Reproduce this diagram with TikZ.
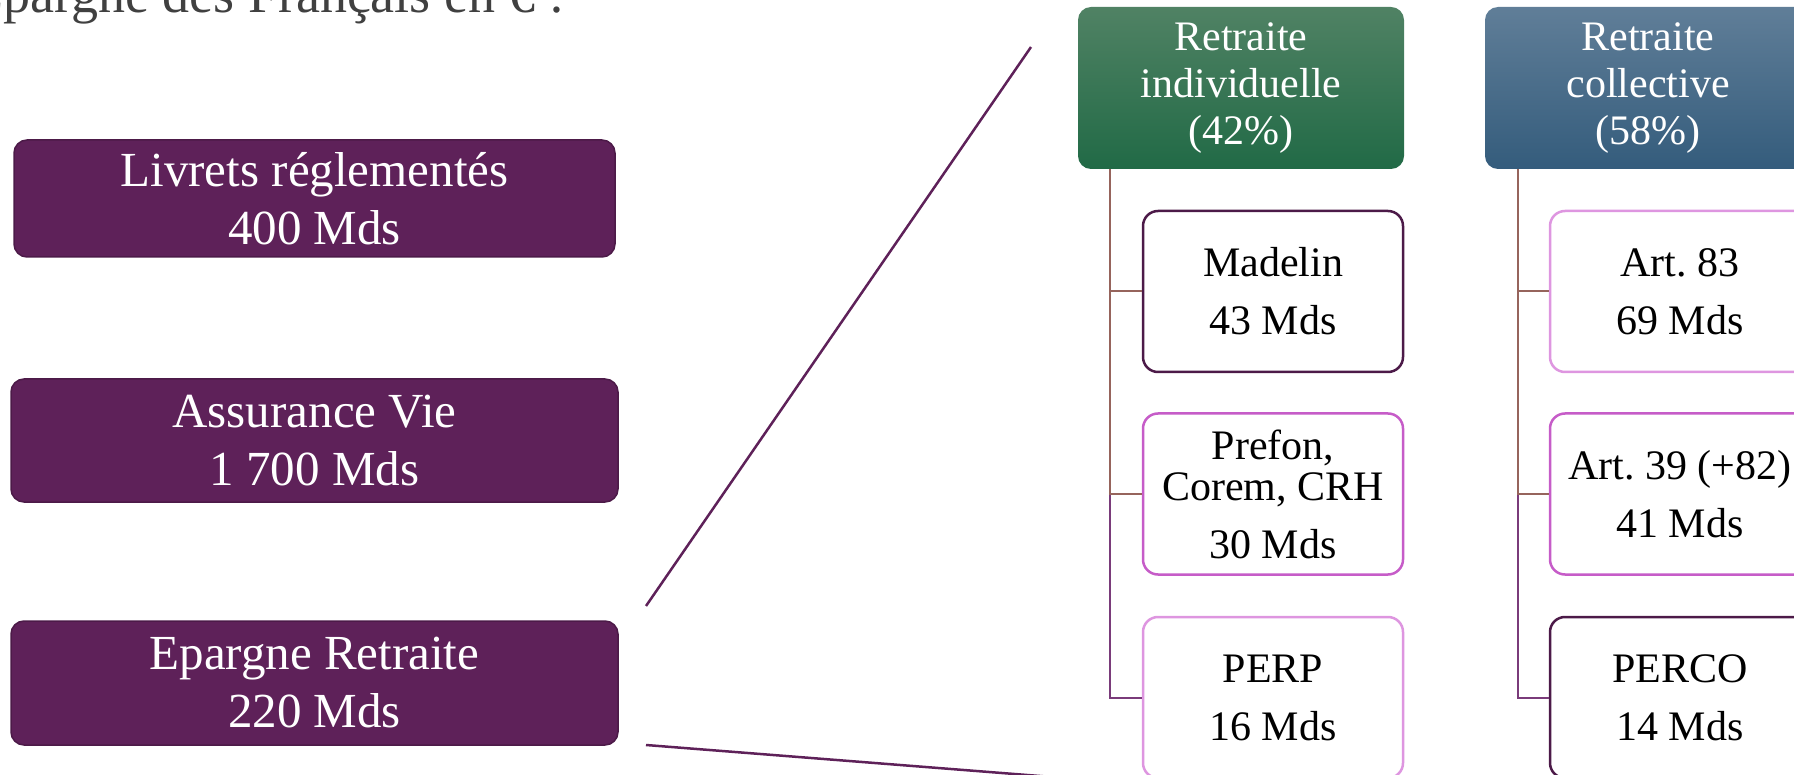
\documentclass[tikz,border=0pt]{standalone}
\usepackage{fontspec}
\setmainfont{Liberation Serif}
\frenchspacing
\definecolor{plum}{RGB}{94,33,89}
\definecolor{plumdark}{RGB}{76,26,72}
\definecolor{orchid}{RGB}{198,92,200}
\definecolor{lilac}{RGB}{222,150,224}
\definecolor{greentop}{RGB}{80,130,100}
\definecolor{greenbot}{RGB}{33,106,70}
\definecolor{bluetop}{RGB}{96,126,152}
\definecolor{bluebot}{RGB}{52,92,124}
\definecolor{linkbrown}{RGB}{150,100,92}
\definecolor{linkplum}{RGB}{122,59,122}
\definecolor{titlegrey}{RGB}{64,64,64}
\tikzset{
  savings/.style={draw=plumdark, line width=1.5pt, fill=plum, text=white,
    rounded corners=13pt, align=center, inner sep=0pt,
    font=\fontsize{49}{58}\selectfont},
  header/.style={rounded corners=13pt, text=white, align=center, inner sep=0pt,
    minimum width=326pt, minimum height=162pt, font=\fontsize{42}{47}\selectfont},
  plan/.style={draw=#1, fill=white, line width=2.5pt, rounded corners=15pt,
    align=center, inner sep=0pt, minimum width=260pt, minimum height=161pt,
    font=\fontsize{42}{58}\selectfont},
  link/.style={draw=#1, line width=2pt},
  zoomline/.style={draw=plum, line width=2.5pt},
}
\begin{document}
\begin{tikzpicture}[x=1pt,y=-1pt]
  \useasboundingbox (0,0) rectangle (1794,775);
  \node[anchor=base east, text=titlegrey, font=\fontsize{54}{60}\selectfont]
    (title) at (568,13) {Epargne des Français en € :};
  \draw
    (314.5,198.5) node[savings, minimum width=601pt, minimum height=117pt] (livrets) {Livrets réglementés\\400 Mds}
    (314.5,440.5) node[savings, minimum width=607pt, minimum height=123pt] (vie) {Assurance Vie\\1 700 Mds}
    (314.5,683) node[savings, minimum width=607pt, minimum height=124pt] (epargne) {Epargne Retraite\\220 Mds}
    (1241,88) node[header, top color=greentop, bottom color=greenbot] (indiv) {Retraite\\individuelle\\(42\%)}
    (1648,88) node[header, top color=bluetop, bottom color=bluebot] (coll) {Retraite\\collective\\(58\%)};
  \draw
    (1273,291.5) node[plan=plumdark] (madelin) {Madelin\\43 Mds}
    (1273,494) node[plan=orchid] (prefon) {Prefon,\\[-17pt]Corem, CRH\\30 Mds}
    (1273,697.5) node[plan=lilac] (perp) {PERP\\16 Mds}
    (1680,291.5) node[plan=lilac] (art83) {Art. 83\\69 Mds}
    (1680,494) node[plan=orchid] (art39) {Art. 39 (+82)\\41 Mds}
    (1680,697.5) node[plan=plumdark] (perco) {PERCO\\14 Mds};
  \coordinate (near1) at (646,606);
  \coordinate (far1) at (1031,47);
  \coordinate (near2) at (646,745);
  \coordinate (far2) at (1078,779);
  \begin{scope}[link=linkplum]
    \draw ([xshift=32pt]indiv.south west) |- (perp.west);
    \draw ([xshift=33pt]coll.south west) |- (perco.west);
  \end{scope}
  \begin{scope}[link=linkbrown]
    \draw ([xshift=32pt]indiv.south west) |- (madelin.west);
    \draw ([xshift=32pt]indiv.south west) |- (prefon.west);
    \draw ([xshift=33pt]coll.south west) |- (art83.west);
    \draw ([xshift=33pt]coll.south west) |- (art39.west);
  \end{scope}
  \begin{scope}[zoomline]
    \draw (near1) to (far1);
    \draw (near2) to (far2);
  \end{scope}
\end{tikzpicture}
\end{document}
